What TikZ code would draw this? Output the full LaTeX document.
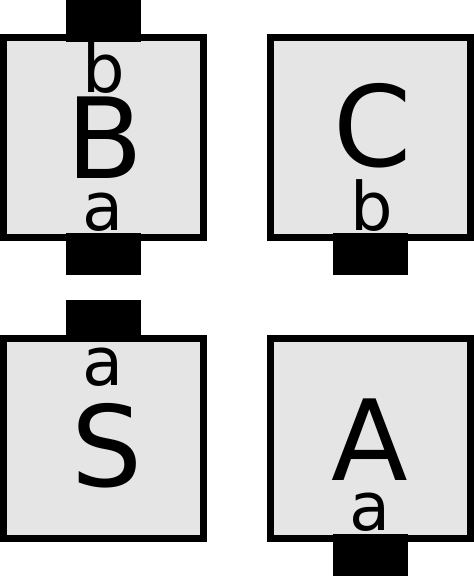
\documentclass[tikz,border=0pt]{standalone}
\usepackage{fontspec}
\setmainfont{DejaVu Sans}
\tikzset{
  block/.style = {draw, line width = 7pt, fill = black!10, minimum size = 200pt, inner sep = 0pt},
  port/.style = {fill = black, minimum width = 75pt, minimum height = 42pt, inner sep = 0pt},
  bigletter/.style = {anchor = base, inner sep = 0pt, font = \fontsize{112}{112}\selectfont},
  portlabel/.style = {anchor = base, inner sep = 0pt, font = \fontsize{67}{67}\selectfont}
}
\begin{document}
\begin{tikzpicture}[x = 1pt, y = -1pt]

\useasboundingbox (0, 0) rectangle (474, 576);

\node[block] (B) at (103.5, 137.5) {};
\node[block] (C) at (370.5, 137.5) {};
\node[block] (S) at (103.5, 438) {};
\node[block] (A) at (370.5, 438) {};

\node[port] (Btop) at (103.5, 21) {};
\node[port] (Bbot) at (103.5, 254) {};
\node[port] (Cbot) at (370.5, 254) {};
\node[port] (Stop) at (103.5, 321) {};
\node[port] (Abot) at (370.5, 555) {};

\node[bigletter] (Bname) at (105, 178) {B};
\node[portlabel] (Bb) at (104, 92) {b};
\node[portlabel] (Ba) at (103, 230) {a};

\node[bigletter] (Cname) at (373, 166) {C};
\node[portlabel] (Cb) at (372, 230) {b};

\node[bigletter] (Sname) at (107, 486) {S};
\node[portlabel] (Sa) at (103, 385) {a};

\node[bigletter] (Aname) at (370, 480) {A};
\node[portlabel] (Aa) at (370, 530) {a};

\end{tikzpicture}
\end{document}
